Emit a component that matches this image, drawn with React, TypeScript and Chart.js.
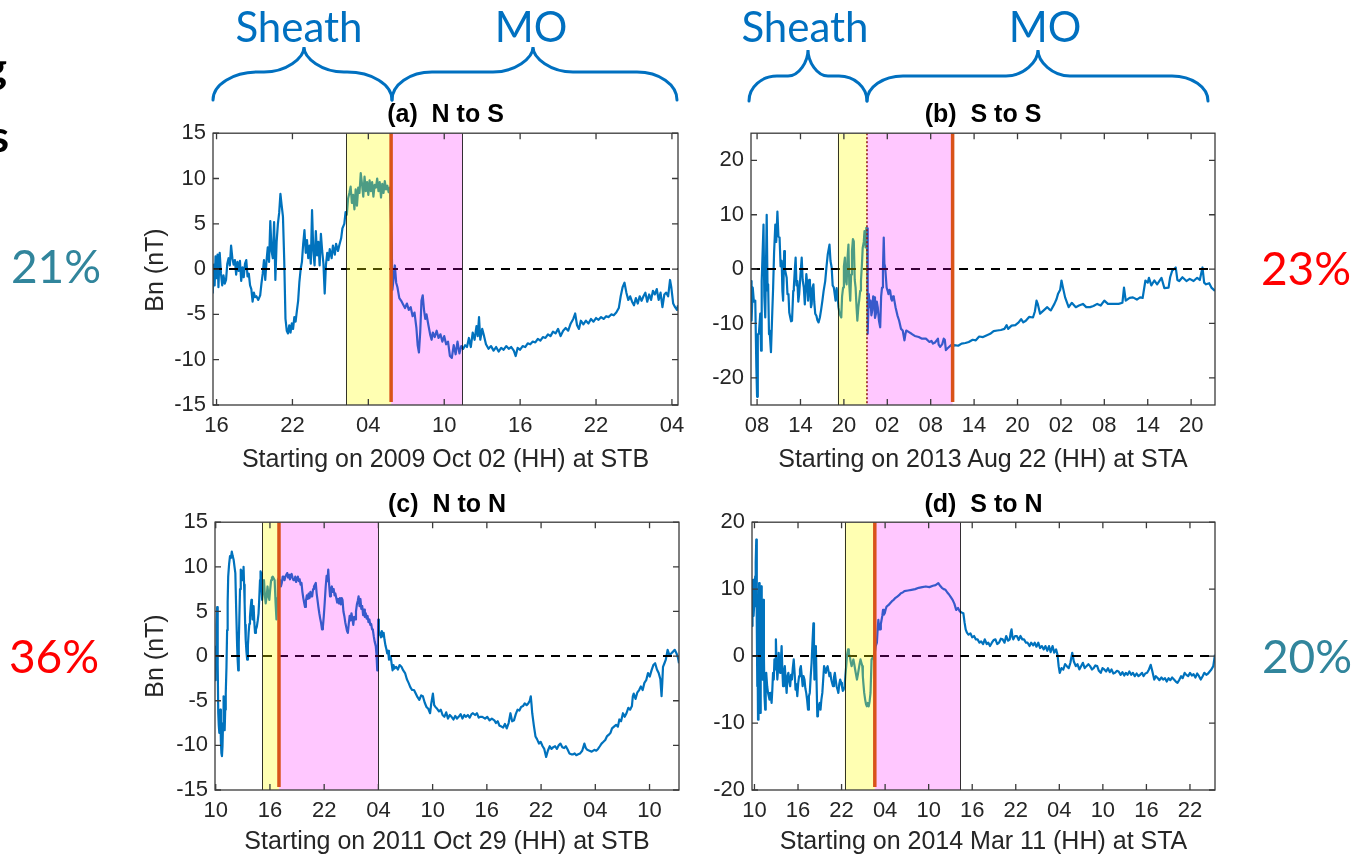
import React, { useEffect, useRef } from "react";
import { Chart, registerables } from "chart.js";

Chart.register(...registerables);

type Pt = [number, number];

// ---------- Panel (a) N to S : hours since 2009 Oct 02 00:00, Bn (nT)
const seriesA: Pt[] = [
  [15.7,-2.7],[15.78,0.5],[15.85,-1.8],[15.92,1.4],[16.0,-1.0],[16.08,1.6],[16.15,-2.0],[16.25,1.8],[16.35,-0.5],[16.45,-1.8],
  [16.55,-0.7],[16.65,-1.6],[16.75,-1.2],[16.85,0.6],[16.95,1.2],[17.05,0.4],[17.15,2.6],[17.25,1.2],[17.35,0.5],[17.45,1.0],
  [17.55,-0.6],[17.65,0.8],[17.75,-0.2],[17.85,0.9],[17.95,-1.3],[18.05,0.2],[18.15,-0.9],[18.25,0.6],[18.35,1.0],[18.45,-0.8],
  [18.55,-0.5],[18.65,-1.8],[18.75,-2.2],[18.85,-3.6],[18.95,-2.6],[19.05,-3.1],[19.15,-3.0],[19.3,-3.4],[19.45,-2.9],[19.55,-1.6],
  [19.65,-0.5],[19.75,1.0],[19.85,-1.2],[19.95,0.9],[20.05,2.4],[20.15,0.8],[20.25,5.3],[20.35,2.0],[20.45,1.2],[20.55,5.2],
  [20.65,-1.2],[20.75,3.0],[20.85,5.0],[20.95,6.2],[21.05,8.3],[21.15,7.0],[21.25,5.8],[21.35,1.0],[21.45,-5.5],[21.55,-6.8],
  [21.65,-7.1],[21.75,-6.2],[21.85,-7.0],[21.95,-6.0],[22.05,-6.6],[22.15,-5.3],[22.25,-5.8],[22.35,-4.6],[22.45,-3.5],[22.55,-1.4],
  [22.65,0.0],[22.75,0.8],[22.85,2.8],[22.95,4.3],[23.05,1.8],[23.15,3.2],[23.25,1.2],[23.35,2.6],[23.45,0.6],[23.55,6.5],
  [23.65,2.0],[23.75,0.4],[23.85,4.2],[23.95,1.5],[24.05,3.0],[24.15,0.4],[24.25,3.9],[24.35,2.0],[24.45,0.6],[24.55,-2.7],
  [24.65,0.5],[24.75,1.8],[24.85,1.0],[24.95,2.2],[25.1,1.2],[25.2,2.6],[25.35,1.6],[25.45,2.8],[25.6,2.0],[25.7,2.6],
  [25.85,3.4],[25.95,4.5],[26.1,5.0],[26.2,6.3],[26.3,6.0],[26.4,7.8],[26.5,8.4],[26.6,9.1],[26.7,7.3],[26.8,8.2],
  [26.9,6.6],[27.0,8.8],[27.1,7.0],[27.2,9.0],[27.3,8.4],[27.4,10.6],[27.5,9.4],[27.6,8.0],[27.7,10.2],[27.8,8.6],
  [27.9,9.6],[28.0,8.2],[28.1,9.8],[28.2,8.6],[28.3,9.6],[28.4,8.0],[28.5,9.3],[28.6,9.0],[28.7,10.0],[28.8,8.6],
  [28.9,9.6],[29.0,7.9],[29.1,9.4],[29.2,8.4],[29.3,9.7],[29.4,8.8],[29.5,9.2],[29.6,8.5],[29.7,9.0],[29.85,2.8],
  [29.9,-2.3],[30.0,-1.0],[30.1,0.4],[30.2,-1.5],[30.3,-2.0],[30.45,-3.2],[30.6,-3.5],[30.75,-3.9],[30.9,-4.3],[31.05,-3.8],
  [31.2,-4.5],[31.35,-4.2],[31.5,-5.2],[31.65,-4.8],[31.8,-6.5],[31.9,-8.4],[32.0,-9.2],[32.1,-7.0],[32.2,-3.5],[32.3,-2.9],
  [32.4,-4.5],[32.5,-5.5],[32.6,-5.0],[32.75,-6.2],[32.9,-7.3],[33.0,-7.8],[33.1,-7.0],[33.25,-7.5],[33.4,-6.8],[33.55,-7.6],
  [33.7,-7.2],[33.85,-8.0],[34.0,-7.4],[34.15,-8.3],[34.3,-8.0],[34.45,-9.6],[34.6,-9.8],[34.75,-8.4],[34.9,-9.4],[35.05,-8.0],
  [35.2,-9.3],[35.35,-8.5],[35.5,-8.8],[35.65,-8.4],[35.8,-8.6],[35.95,-7.6],[36.1,-8.6],[36.25,-7.0],[36.4,-7.8],[36.55,-6.3],
  [36.65,-7.4],[36.75,-5.3],[36.85,-7.8],[37.0,-6.6],[37.15,-7.4],[37.3,-8.3],[37.5,-8.8],[37.7,-8.5],[37.9,-9.0],[38.1,-8.6],
  [38.3,-9.1],[38.5,-8.7],[38.7,-8.9],[38.9,-8.5],[39.1,-8.8],[39.3,-8.6],[39.5,-9.0],[39.65,-9.6],[39.8,-8.7],[40.0,-8.9],
  [40.2,-8.5],[40.4,-8.6],[40.6,-8.2],[40.8,-8.3],[41.0,-8.0],[41.2,-8.1],[41.4,-7.7],[41.6,-7.9],[41.8,-7.5],[42.0,-7.6],
  [42.2,-7.2],[42.4,-7.4],[42.6,-6.9],[42.8,-7.1],[43.0,-6.6],[43.2,-7.4],[43.4,-6.8],[43.6,-6.5],[43.8,-6.8],[44.0,-6.0],
  [44.2,-5.5],[44.35,-4.9],[44.5,-6.2],[44.65,-6.6],[44.8,-5.7],[45.0,-6.1],[45.2,-5.7],[45.4,-6.0],[45.6,-5.5],[45.8,-5.8],
  [46.0,-5.4],[46.2,-5.6],[46.4,-5.3],[46.6,-5.5],[46.8,-5.2],[47.0,-5.3],[47.2,-5.0],[47.4,-5.1],[47.6,-4.8],[47.8,-4.3],
  [47.95,-3.0],[48.1,-2.0],[48.25,-1.5],[48.4,-2.6],[48.55,-3.4],[48.7,-3.0],[48.85,-3.6],[49.0,-4.0],[49.15,-3.2],[49.3,-3.8],
  [49.45,-3.0],[49.6,-3.5],[49.75,-3.0],[49.9,-2.6],[50.05,-3.6],[50.2,-2.8],[50.35,-3.4],[50.5,-2.4],[50.65,-2.8],[50.8,-2.2],
  [50.95,-3.4],[51.1,-2.6],[51.25,-4.2],[51.4,-2.8],[51.55,-2.6],[51.7,-3.0],[51.85,-1.2],[51.95,-2.0],[52.1,-3.8],[52.25,-4.2],
  [52.4,-4.5],[52.48,-4.0]
];

// ---------- Panel (b) S to S : hours since 2013 Aug 22 00:00
const seriesB: Pt[] = [
  [7.16,-2.2],[7.22,-5],[7.26,-9.5],[7.4,-3.4],[7.56,-6],[7.75,-5.8],[7.9,-18],[8.0,-23.5],[8.1,-12],[8.25,-11.9],
  [8.44,-8.2],[8.55,-15],[8.64,-2.2],[8.89,8.2],[9.0,-5],[9.13,-8.9],[9.33,10.0],[9.45,-4],[9.53,-2.8],[9.65,-12],
  [9.73,-11.3],[9.92,-15.3],[10.1,-8],[10.22,-3.4],[10.35,3],[10.52,8.2],[10.65,5],[10.81,10.6],[10.95,6],[11.11,5.8],
  [11.25,0.5],[11.4,1.5],[11.5,-4],[11.6,-5.8],[11.75,3.3],[11.85,0],[12.09,-1.6],[12.2,-4.6],[12.34,-4.6],[12.45,-8],
  [12.59,-8.9],[12.7,-9.6],[12.83,-9.5],[13.0,-4],[13.08,-3.4],[13.2,-0.5],[13.33,2.1],[13.45,-3],[13.57,-2.2],[13.7,-6],
  [13.82,-4.6],[14.0,-1],[14.17,2.1],[14.3,-2],[14.46,-3.4],[14.6,-6.5],[14.81,-0.9],[14.95,-3],[15.05,-5.8],[15.2,-2],
  [15.3,-2.2],[15.45,-7],[15.55,-6.4],[15.65,-3.5],[15.79,-2.8],[15.9,-6],[16.04,-8.2],[16.2,-8.6],[16.34,-9.4],[16.5,-9.8],
  [16.68,-8.9],[16.85,-7.5],[17.03,-5.8],[17.2,-4],[17.42,-2.2],[17.6,0.5],[17.77,2.7],[18.01,4.5],[18.15,1.5],[18.31,0.3],
  [18.45,-3],[18.61,-3.4],[18.85,-5.8],[19.0,-3.5],[19.1,-4.6],[19.25,-7],[19.4,-8.2],[19.64,-8.9],[19.75,-5],[19.89,-3.4],
  [20.0,0.5],[20.14,2.1],[20.25,-2],[20.38,-2.8],[20.5,2],[20.63,4.5],[20.75,-3],[20.88,-5.8],[21.0,-1],[21.12,3.3],
  [21.25,5.5],[21.37,5.1],[21.5,-2],[21.62,-3.4],[21.75,-7],[21.86,-9.5],[22.0,-7],[22.11,-5.8],[22.25,-4],[22.36,-2.2],
  [22.5,1],[22.6,3.9],[22.75,5],[22.85,7.0],[23.0,4],[23.1,7.6],[23.2,7.5],[23.29,-11.9],[23.44,-4.6],[23.55,-7],
  [23.69,-5.8],[23.8,-8.5],[23.93,-7.6],[24.05,-5],[24.18,-5.2],[24.3,-9],[24.43,-8.2],[24.55,-6],[24.68,-7.0],[24.85,-9.5],
  [25.02,-10.7],[25.15,-5],[25.27,-3.4],[25.4,0],[25.51,5.8],[25.6,1],[25.71,0.3],[25.91,-3.4],[26.05,-4],[26.16,-4.6],
  [26.3,-3.8],[26.4,-4.0],[26.55,-5.5],[26.65,-5.8],[26.8,-5],[26.9,-5.2],[27.14,-7.0],[27.4,-8.5],[27.64,-9.5],[27.9,-11],
  [28.13,-11.3],[28.37,-13.1],[28.5,-12],[28.62,-11.3],[29.0,-11.6],[29.36,-11.9],[29.8,-12.3],[30.35,-12.5],[30.8,-12.8],[31.34,-12.8],
  [31.83,-13.4],[32.1,-13.2],[32.32,-13.7],[32.6,-13.5],[32.82,-13.1],[33.0,-12.8],[33.1,-13.9],[33.31,-14.3],[33.6,-13.8],[33.8,-12.8],
  [33.95,-13.0],[34.1,-14.9],[34.3,-14.6],[34.79,-14.0],[35.1,-14.2],[35.28,-14.0],[35.8,-14.1],[36.27,-13.7],[36.8,-13.6],[37.26,-13.4],
  [37.8,-13.0],[38.24,-13.1],[38.7,-12.4],[39.23,-12.5],[39.7,-12.2],[40.22,-11.9],[40.7,-11.4],[41.2,-11.3],[41.7,-11.2],[42.19,-11.0],
  [42.5,-10.3],[42.7,-11.0],[43.18,-10.4],[43.7,-10.3],[44.16,-9.8],[44.5,-9.2],[44.8,-9.8],[45.15,-9.5],[45.6,-8.8],[46.14,-8.9],
  [46.4,-7.8],[46.63,-5.8],[46.8,-6.4],[47.12,-8.2],[47.62,-7.6],[48.11,-7.0],[48.4,-7.4],[48.6,-7.6],[49.1,-6.4],[49.4,-5.5],
  [49.59,-4.6],[49.9,-3.8],[50.08,-2.1],[50.3,-3.5],[50.58,-5.2],[51.07,-7.0],[51.5,-6.2],[52.06,-7.0],[52.5,-6.7],[53.04,-6.4],
  [53.5,-7.0],[54.03,-7.0],[54.5,-6.8],[55.02,-6.4],[55.5,-6.7],[56.0,-5.8],[56.5,-6.4],[56.99,-6.4],[57.5,-6.4],[57.98,-6.4],
  [58.5,-6.2],[58.72,-3.4],[58.96,-5.8],[59.5,-5.3],[59.95,-5.2],[60.5,-5.6],[60.94,-5.2],[61.3,-5.3],[61.68,-2.1],[62.0,-2.5],
  [62.17,-1.6],[62.5,-3],[62.91,-2.1],[63.3,-2.8],[63.9,-1.6],[64.3,-3.5],[64.88,-3.4],[65.1,-1.5],[65.38,-0.3],[65.87,0.3],
  [66.1,-2.0],[66.36,-2.2],[66.8,-1.5],[67.35,-2.2],[67.8,-1.8],[68.34,-2.2],[68.83,-1.6],[69.2,-2.0],[69.57,0.3],[69.8,-2.5],
  [70.06,-2.8],[70.5,-2.6],[70.8,-3.4],[71.3,-4.0]
];

// ---------- Panel (c) N to N : hours since 2011 Oct 29 00:00
const seriesC: Pt[] = [
  [9.92,-2.7],[9.98,0.5],[10.04,1.1],[10.1,3.5],[10.16,5.5],[10.22,-1.0],[10.28,-6.4],[10.34,-7.8],[10.4,-8.6],[10.46,-7.0],
  [10.51,-6.0],[10.57,-9.5],[10.63,-10.9],[10.69,-11.2],[10.75,-10.1],[10.81,-7.5],[10.87,-4.5],[10.93,-6.5],[10.99,-8.3],[11.05,-6.0],
  [11.11,-4.2],[11.19,-1.2],[11.26,2.9],[11.32,6.0],[11.38,8.9],[11.48,10.3],[11.58,11.2],[11.68,11.0],[11.78,11.7],[11.88,11.2],
  [11.98,10.8],[12.08,10.0],[12.17,9.3],[12.27,5.0],[12.37,1.1],[12.43,-0.5],[12.49,-1.6],[12.55,1.5],[12.61,4.1],[12.69,7.5],
  [12.77,9.7],[12.87,9.2],[12.96,8.5],[13.02,9.6],[13.08,10.0],[13.14,8.0],[13.2,5.9],[13.26,3.5],[13.32,1.8],[13.4,0.5],
  [13.48,-0.4],[13.56,1.2],[13.64,2.6],[13.72,3.6],[13.79,4.4],[13.87,5.5],[13.95,6.3],[14.01,5.0],[14.07,4.1],[14.13,5.2],
  [14.19,5.6],[14.27,3.8],[14.35,2.6],[14.45,3.0],[14.55,3.3],[14.65,4.0],[14.74,4.8],[14.82,6.5],[14.9,8.5],[14.96,9.5],
  [15.02,9.3],[15.08,7.5],[15.14,6.3],[15.24,7.6],[15.34,8.5],[15.44,6.8],[15.53,5.9],[15.63,6.6],[15.73,7.8],[15.83,6.8],
  [15.93,6.3],[16.03,7.5],[16.13,8.5],[16.22,8.8],[16.32,8.9],[16.42,8.7],[16.52,8.5],[16.62,6.0],[16.72,4.1],[16.8,6.5],
  [16.88,8.5],[16.95,8.7],[17.03,8.2],[17.11,8.5],[17.21,7.8],[17.31,8.2],[17.41,8.9],[17.51,8.9],[17.61,8.5],[17.71,8.9],
  [17.81,9.1],[17.91,9.3],[18.01,8.8],[18.11,9.1],[18.21,8.6],[18.3,8.9],[18.4,9.2],[18.5,8.8],[18.6,8.5],[18.7,8.5],
  [18.8,8.9],[18.9,8.3],[19.0,8.8],[19.09,8.9],[19.19,8.4],[19.29,8.6],[19.39,8.0],[19.49,8.2],[19.59,7.2],[19.69,6.5],
  [19.78,6.0],[19.88,5.5],[19.98,6.2],[20.08,6.8],[20.18,6.4],[20.28,7.0],[20.38,6.5],[20.48,7.2],[20.57,6.7],[20.67,6.7],
  [20.77,7.5],[20.87,7.8],[20.97,8.0],[21.07,8.2],[21.17,7.0],[21.26,6.3],[21.36,5.5],[21.46,4.8],[21.56,4.2],[21.66,3.7],
  [21.76,3.0],[21.86,3.3],[21.96,4.5],[22.06,6.0],[22.17,7.8],[22.27,9.0],[22.37,8.4],[22.45,9.7],[22.55,8.0],[22.65,6.7],
  [22.75,7.5],[22.85,7.8],[22.95,7.2],[23.05,7.5],[23.15,6.8],[23.24,7.0],[23.34,6.5],[23.44,6.0],[23.54,6.4],[23.64,5.9],
  [23.74,6.5],[23.84,5.8],[23.94,6.5],[24.03,6.3],[24.13,5.0],[24.23,4.5],[24.33,3.8],[24.43,3.3],[24.53,2.8],[24.62,2.6],
  [24.72,3.6],[24.82,4.5],[24.92,4.0],[25.02,4.8],[25.12,4.2],[25.22,3.5],[25.32,4.4],[25.42,4.1],[25.52,5.0],[25.62,5.8],
  [25.72,6.2],[25.81,6.7],[25.91,5.6],[26.01,6.4],[26.11,5.3],[26.21,5.6],[26.31,4.6],[26.41,5.2],[26.5,4.4],[26.6,4.8],
  [26.7,4.2],[26.8,4.5],[26.9,3.8],[27.0,4.1],[27.1,3.5],[27.2,3.6],[27.3,3.0],[27.39,2.9],[27.49,2.2],[27.59,1.6],
  [27.71,1.1],[27.8,0.0],[27.87,-1.6],[27.93,0.5],[27.98,4.1],[28.05,3.0],[28.12,2.4],[28.18,2.6],[28.28,2.1],[28.38,2.8],
  [28.48,2.2],[28.58,2.6],[28.68,1.8],[28.78,1.2],[28.88,0.8],[28.97,0.3],[29.07,0.6],[29.17,-0.4],[29.27,0.0],[29.37,-0.1],
  [29.47,-0.9],[29.57,-1.6],[29.67,-1.0],[29.77,-1.4],[29.96,-1.2],[30.15,-1.5],[30.35,-1.0],[30.55,-1.2],[30.75,-1.6],[30.95,-1.9],
  [31.15,-2.6],[31.34,-3.0],[31.54,-3.5],[31.74,-3.8],[31.94,-3.8],[32.13,-4.2],[32.33,-4.6],[32.53,-4.9],[32.73,-4.4],[32.92,-4.5],
  [33.12,-5.2],[33.32,-5.7],[33.52,-5.9],[33.72,-6.4],[33.85,-5.3],[34.03,-4.2],[34.17,-5.5],[34.31,-5.7],[34.5,-5.9],[34.7,-6.2],
  [34.9,-6.0],[35.1,-6.6],[35.3,-6.8],[35.5,-6.3],[35.7,-7.0],[35.9,-6.6],[36.09,-6.8],[36.3,-7.1],[36.5,-6.7],[36.7,-7.0],
  [36.88,-6.8],[37.1,-6.5],[37.3,-7.0],[37.5,-6.6],[37.67,-6.8],[37.9,-6.6],[38.1,-6.9],[38.3,-6.5],[38.46,-6.4],[38.7,-6.6],
  [38.9,-6.4],[39.1,-6.9],[39.25,-6.8],[39.5,-6.8],[39.8,-7.0],[40.04,-6.8],[40.3,-7.2],[40.55,-7.0],[40.83,-7.2],[41.0,-7.5],
  [41.2,-7.3],[41.4,-7.8],[41.62,-7.9],[41.8,-8.0],[42.0,-7.6],[42.2,-8.1],[42.41,-7.5],[42.61,-6.4],[42.8,-7.3],[43.0,-7.2],
  [43.2,-6.5],[43.4,-6.0],[43.6,-6.1],[43.79,-5.7],[44.0,-5.6],[44.19,-5.3],[44.4,-5.5],[44.58,-5.3],[44.75,-5.0],[44.86,-4.5],
  [44.95,-5.5],[45.02,-6.4],[45.2,-7.8],[45.38,-9.0],[45.55,-9.3],[45.77,-9.8],[45.95,-9.6],[46.17,-10.1],[46.35,-10.4],[46.56,-11.3],
  [46.75,-10.6],[46.96,-10.1],[47.15,-10.4],[47.35,-10.2],[47.55,-10.1],[47.75,-10.4],[47.95,-10.0],[48.14,-9.8],[48.35,-10.2],[48.55,-10.3],
  [48.74,-10.1],[48.95,-10.5],[49.13,-10.9],[49.35,-11.0],[49.55,-11.0],[49.72,-10.9],[49.9,-11.1],[50.1,-11.0],[50.32,-10.9],[50.55,-10.6],
  [50.79,-9.8],[50.95,-10.3],[51.11,-10.5],[51.35,-10.6],[51.6,-10.7],[51.9,-10.5],[52.1,-10.6],[52.3,-10.4],[52.5,-10.1],[52.69,-9.8],
  [52.9,-9.6],[53.1,-9.4],[53.28,-9.0],[53.5,-8.8],[53.68,-8.6],[53.85,-8.1],[54.07,-7.9],[54.3,-7.7],[54.5,-7.9],[54.66,-7.1],
  [54.85,-7.3],[55.06,-6.4],[55.25,-6.8],[55.45,-6.4],[55.65,-5.8],[55.85,-6.0],[56.05,-5.6],[56.15,-4.5],[56.25,-4.2],[56.45,-4.8],
  [56.64,-4.1],[56.85,-3.8],[57.04,-3.4],[57.24,-3.8],[57.43,-3.0],[57.63,-2.7],[57.83,-1.9],[58.02,-2.3],[58.22,-1.6],[58.42,-1.0],
  [58.62,-0.8],[58.82,-1.5],[59.01,-1.9],[59.2,-2.6],[59.33,-4.5],[59.41,-3.0],[59.49,-1.2],[59.65,-0.8],[59.8,-0.4],[60.0,0.7],
  [60.2,0.1],[60.4,0.3],[60.6,0.5],[60.79,0.7],[60.99,0.3],[61.15,-0.2],[61.26,-0.8]
];

// ---------- Panel (d) S to N : hours since 2014 Mar 11 00:00
const seriesD: Pt[] = [
  [9.66,4.5],[9.73,9],[9.8,11.4],[9.87,6],[9.95,7.4],[10.02,10],[10.1,11.9],[10.17,14],[10.25,17.4],[10.32,5],
  [10.39,-4.5],[10.44,-2],[10.49,-9.5],[10.56,2],[10.64,10.9],[10.71,2],[10.79,-8.5],[10.86,0],[10.93,10.4],[11.0,5],
  [11.08,-3.5],[11.15,2],[11.23,8.4],[11.3,0],[11.38,-6.0],[11.48,-8.0],[11.55,-4],[11.62,-2.5],[11.75,-4.5],[11.87,-5.5],
  [11.97,-6.0],[12.07,-6.5],[12.2,-5.5],[12.36,-7.0],[12.46,-5.0],[12.56,-2.5],[12.66,-3.5],[12.75,-0.5],[12.85,-2.0],[12.95,2.5],
  [13.05,-1.0],[13.15,-3.5],[13.25,-2.0],[13.34,0.5],[13.44,-1.5],[13.54,-2.5],[13.64,-0.5],[13.74,1.5],[13.84,-2.0],[13.94,-4.5],
  [14.06,-2.5],[14.18,-1.5],[14.3,-3.5],[14.43,-5.5],[14.55,-3.0],[14.67,-2.5],[14.8,-3.8],[14.92,-4.5],[15.04,-2.8],[15.16,-3.5],
  [15.28,-1.8],[15.41,-0.5],[15.53,-2.5],[15.66,-5.0],[15.78,-4.2],[15.9,-6.0],[16.03,-4.0],[16.15,-3.0],[16.27,-2.0],[16.39,-1.5],
  [16.52,-3.0],[16.64,-4.5],[16.76,-3.0],[16.89,-3.5],[17.01,-4.8],[17.13,-5.5],[17.25,-6.5],[17.38,-8.0],[17.5,-6.0],[17.62,-5.5],
  [17.75,-3.0],[17.87,-1.0],[17.99,2.0],[18.12,4.9],[18.2,0],[18.26,-3.5],[18.36,-0.5],[18.46,1.5],[18.56,-4],[18.66,-9.0],
  [18.75,-8.5],[18.85,-7.5],[18.98,-7.0],[19.1,-8.0],[19.22,-6.5],[19.35,-5.5],[19.47,-3.5],[19.59,-1.5],[19.72,-2.0],[19.84,-2.5],
  [19.96,-1.8],[20.08,-1.5],[20.2,-2.2],[20.33,-3.0],[20.45,-2.5],[20.58,-3.5],[20.7,-4.0],[20.82,-4.5],[20.95,-3.2],[21.07,-2.5],
  [21.19,-3.5],[21.31,-4.5],[21.44,-5.0],[21.56,-5.5],[21.68,-4.2],[21.81,-3.5],[21.93,-4.0],[22.05,-4.5],[22.17,-5.2],[22.3,-5.0],
  [22.42,-4.5],[22.52,-3.0],[22.64,-1.5],[22.76,0.2],[22.89,1.0],[23.0,0.3],[23.13,0.0],[23.25,-0.8],[23.38,-1.5],[23.5,-1.0],
  [23.63,-0.5],[23.75,-1.2],[23.87,-2.0],[24.0,-2.8],[24.12,-3.5],[24.24,-2.8],[24.36,-2.0],[24.48,-1.2],[24.61,-0.5],[24.73,-1.0],
  [24.86,-1.5],[24.93,-3.0],[25.0,-4.0],[25.12,-5.5],[25.25,-6.5],[25.37,-7.2],[25.49,-7.5],[25.62,-7.0],[25.74,-7.5],[25.86,-6.8],
  [25.99,-5.5],[26.13,-0.5],[26.23,-0.3],[26.33,0.0],[26.45,-0.5],[26.58,0.5],[26.7,1.5],[26.87,2.0],[26.97,4.0],[27.07,5.4],
  [27.19,4.0],[27.31,4.0],[27.41,4.8],[27.51,5.4],[27.61,6.0],[27.71,6.9],[27.83,6.2],[27.95,6.4],[28.08,7.0],[28.2,7.4],
  [28.45,7.6],[28.69,7.9],[28.94,8.2],[29.18,8.4],[29.43,8.7],[29.68,8.9],[29.92,9.1],[30.17,9.4],[30.42,9.5],[30.66,9.7],
  [31.15,9.8],[31.64,9.9],[32.14,10.0],[32.63,10.2],[33.12,10.3],[33.61,10.4],[34.1,10.3],[34.59,10.5],[34.95,10.6],[35.33,10.9],
  [35.58,10.5],[35.82,10.2],[36.07,10.0],[36.32,9.9],[36.57,9.5],[36.81,9.2],[37.05,8.8],[37.3,8.4],[37.55,7.8],[37.79,6.9],
  [38.04,7.2],[38.28,6.7],[38.53,6.5],[38.78,6.4],[38.95,5.0],[39.1,4.0],[39.27,3.5],[39.5,3.2],[39.76,3.4],[40.0,2.8],
  [40.25,3.0],[40.5,2.5],[40.74,2.5],[41.0,2.0],[41.23,2.2],[41.5,1.8],[41.73,2.5],[42.0,1.8],[42.22,2.0],[42.45,1.5],
  [42.71,2.0],[42.95,2.4],[43.2,2.5],[43.45,1.8],[43.69,2.0],[43.95,2.6],[44.19,2.5],[44.45,2.0],[44.68,3.0],[44.95,2.3],
  [45.17,2.5],[45.3,3.5],[45.42,4.0],[45.55,2.8],[45.66,2.5],[45.9,3.0],[46.15,3.0],[46.4,2.4],[46.65,3.0],[46.9,2.5],
  [47.14,2.5],[47.4,2.0],[47.63,2.0],[47.9,1.5],[48.12,2.0],[48.4,1.6],[48.61,2.0],[48.85,1.4],[49.1,2.0],[49.35,1.2],
  [49.6,1.5],[49.85,1.0],[50.09,1.5],[50.35,0.8],[50.58,1.5],[50.8,0.6],[51.07,1.5],[51.3,0.5],[51.56,1.0],[51.75,0.2],
  [51.91,-1.5],[52.06,-2.5],[52.3,-1.8],[52.55,-2.0],[52.8,-1.2],[53.04,-1.5],[53.3,-1.8],[53.53,-1.0],[53.78,0.5],[54.0,-0.8],
  [54.27,-1.5],[54.5,-1.2],[54.76,-2.0],[55.0,-1.5],[55.25,-1.0],[55.5,-1.8],[55.74,-1.5],[56.0,-1.2],[56.24,-1.5],[56.5,-2.0],
  [56.73,-1.8],[56.97,-1.4],[57.22,-1.5],[57.45,-2.2],[57.71,-2.5],[57.95,-1.8],[58.2,-2.0],[58.45,-2.3],[58.7,-1.8],[58.95,-2.4],
  [59.19,-2.0],[59.45,-2.6],[59.68,-2.5],[59.95,-2.2],[60.17,-2.3],[60.45,-2.8],[60.7,-2.4],[60.95,-2.9],[61.16,-2.5],[61.4,-2.8],
  [61.65,-2.3],[61.9,-2.8],[62.14,-2.5],[62.4,-3.0],[62.65,-2.6],[62.9,-3.0],[63.12,-2.8],[63.4,-2.5],[63.6,-3.0],[63.85,-2.6],
  [64.1,-2.5],[64.35,-2.0],[64.59,-1.3],[64.8,-2.2],[65.08,-3.5],[65.3,-3.0],[65.58,-3.3],[65.8,-3.6],[66.07,-3.2],[66.3,-3.5],
  [66.56,-3.3],[66.8,-3.8],[67.05,-3.3],[67.3,-3.6],[67.54,-3.2],[67.8,-3.5],[68.05,-3.8],[68.28,-4.0],[68.5,-3.6],[68.78,-3.0],
  [69.0,-3.3],[69.27,-2.5],[69.5,-2.8],[69.75,-3.0],[70.01,-2.5],[70.25,-2.9],[70.5,-2.7],[70.75,-3.2],[71.0,-2.6],[71.25,-3.0],
  [71.49,-3.5],[71.75,-3.0],[71.98,-2.5],[72.25,-2.8],[72.5,-2.6],[72.72,-2.3],[72.95,-2.0],[73.21,-1.5],[73.35,-0.5],[73.45,0.2]
];

// ---------- axis ticks (hours) and value ticks
const xTicksA = [16, 22, 28, 34, 40, 46, 52];
const xTicksB = [8, 14, 20, 26, 32, 38, 44, 50, 56, 62, 68];
const xTicksC = [10, 16, 22, 28, 34, 40, 46, 52, 58];
const xTicksD = [10, 16, 22, 28, 34, 40, 46, 52, 58, 64, 70];
const yTicks15 = [-15, -10, -5, 0, 5, 10, 15];
const yTicks20 = [-20, -10, 0, 10, 20];

// ---------- shaded intervals (hours): sheath (yellow), MO part (magenta)
const sheathA: [number, number] = [26.25, 29.8];
const magentaA: [number, number] = [29.8, 35.44];
const sheathB: [number, number] = [19.15, 23.19];
const magentaB: [number, number] = [23.19, 35.03];
const sheathC: [number, number] = [15.14, 17.0];
const magentaC: [number, number] = [17.0, 28.0];
const sheathD: [number, number] = [22.44, 26.58];
const magentaD: [number, number] = [26.58, 38.38];

const titles = ["(a)  N to S", "(b)  S to S", "(c)  N to N", "(d)  S to N"];
const xLabels = [
  "Starting on 2009 Oct 02 (HH) at STB",
  "Starting on 2013 Aug 22 (HH) at STA",
  "Starting on 2011 Oct 29 (HH) at STB",
  "Starting on 2014 Mar 11 (HH) at STA",
];
const percents = ["21%", "23%", "36%", "20%"];

const FONT = "'Liberation Sans', Arial, Helvetica, sans-serif";
const LABEL_FONT = "Lato, 'Open Sans', sans-serif";
const TXT = "#262626";
const BLUE = "#0072BD";
const ORANGE = "#D95319";
const ANNO_BLUE = "#0070C0";
const TEAL = "#31859C";

interface PanelCfg {
  box: { left: number; top: number; width: number; height: number };
  xRange: [number, number];
  yRange: [number, number];
  xTicks: number[];
  yTicks: number[];
  series: Pt[];
  yellow: [number, number];
  magenta: [number, number];
  orange: number;
  thin: number[];
  dotted: number[];
}

const panels: PanelCfg[] = [
  {
    box: { left: 213, top: 133, width: 465, height: 272 },
    xRange: [15.72, 52.48], yRange: [-15, 15], xTicks: xTicksA, yTicks: yTicks15,
    series: seriesA, yellow: sheathA, magenta: magentaA, orange: sheathA[1],
    thin: [sheathA[0], magentaA[1]], dotted: [],
  },
  {
    box: { left: 751, top: 133, width: 464, height: 272 },
    xRange: [7.16, 71.3], yRange: [-25, 25], xTicks: xTicksB, yTicks: yTicks20,
    series: seriesB, yellow: sheathB, magenta: magentaB, orange: magentaB[1],
    thin: [sheathB[0]], dotted: [sheathB[1]],
  },
  {
    box: { left: 215, top: 522, width: 464, height: 268 },
    xRange: [9.92, 61.26], yRange: [-15, 15], xTicks: xTicksC, yTicks: yTicks15,
    series: seriesC, yellow: sheathC, magenta: magentaC, orange: sheathC[1],
    thin: [sheathC[0], magentaC[1]], dotted: [],
  },
  {
    box: { left: 752, top: 522, width: 463, height: 268 },
    xRange: [9.66, 73.45], yRange: [-20, 20], xTicks: xTicksD, yTicks: yTicks20,
    series: seriesD, yellow: sheathD, magenta: magentaD, orange: sheathD[1],
    thin: [sheathD[0], magentaD[1]], dotted: [],
  },
];

const AY_W = 70;
const PAD_T = 20;
const PAD_R = 30;
const AX_H = 45;

const hh = (v: number) => String(((Math.round(v) % 24) + 24) % 24).padStart(2, "0");

function Panel({ cfg }: { cfg: PanelCfg }) {
  const ref = useRef<HTMLCanvasElement | null>(null);
  const cw = AY_W + cfg.box.width + PAD_R;
  const ch = PAD_T + cfg.box.height + AX_H;

  useEffect(() => {
    const canvas = ref.current;
    if (!canvas) return;
    const overlay = {
      id: "overlay",
      afterDatasetsDraw(chart: any) {
        const { ctx, chartArea: a, scales } = chart;
        const xs = scales.x;
        const ys = scales.y;
        const px = (v: number) => xs.getPixelForValue(v);
        const h = a.bottom - a.top;
        ctx.save();
        ctx.beginPath();
        ctx.rect(a.left, a.top, a.right - a.left, h);
        ctx.clip();
        ctx.fillStyle = "rgba(255,255,0,0.3)";
        ctx.fillRect(px(cfg.yellow[0]), a.top, px(cfg.yellow[1]) - px(cfg.yellow[0]), h);
        ctx.fillStyle = "rgba(255,0,255,0.22)";
        ctx.fillRect(px(cfg.magenta[0]), a.top, px(cfg.magenta[1]) - px(cfg.magenta[0]), h);
        ctx.strokeStyle = "rgba(0,0,0,0.8)";
        ctx.lineWidth = 1;
        for (const t of cfg.thin) {
          const x = Math.round(px(t)) + 0.5;
          ctx.beginPath();
          ctx.moveTo(x, a.top);
          ctx.lineTo(x, a.bottom);
          ctx.stroke();
        }
        ctx.strokeStyle = "#8B1010";
        ctx.lineWidth = 1.5;
        ctx.setLineDash([2, 2]);
        for (const t of cfg.dotted) {
          const x = px(t);
          ctx.beginPath();
          ctx.moveTo(x, a.top);
          ctx.lineTo(x, a.bottom);
          ctx.stroke();
        }
        ctx.setLineDash([]);
        ctx.strokeStyle = ORANGE;
        ctx.lineWidth = 3.5;
        const ox = px(cfg.orange);
        ctx.beginPath();
        ctx.moveTo(ox, a.top);
        ctx.lineTo(ox, a.bottom - 3);
        ctx.stroke();
        ctx.restore();

        // axes box with inward ticks
        ctx.save();
        ctx.strokeStyle = "#3a3a3a";
        ctx.lineWidth = 1.3;
        ctx.strokeRect(a.left, a.top, a.right - a.left, h);
        const TL = 6;
        ctx.beginPath();
        for (const t of cfg.xTicks) {
          const x = px(t);
          ctx.moveTo(x, a.bottom);
          ctx.lineTo(x, a.bottom - TL);
          ctx.moveTo(x, a.top);
          ctx.lineTo(x, a.top + TL);
        }
        for (const t of cfg.yTicks) {
          const y = ys.getPixelForValue(t);
          ctx.moveTo(a.left, y);
          ctx.lineTo(a.left + TL, y);
          ctx.moveTo(a.right, y);
          ctx.lineTo(a.right - TL, y);
        }
        ctx.stroke();
        ctx.restore();
      },
    };

    const chart = new Chart(canvas, {
      type: "line",
      data: {
        datasets: [
          {
            data: cfg.series.map(([x, y]) => ({ x, y })),
            borderColor: BLUE,
            borderWidth: 2.2,
            pointRadius: 0,
            tension: 0,
            borderJoinStyle: "round",
            order: 1,
          },
          {
            data: [
              { x: cfg.xRange[0], y: 0 },
              { x: cfg.xRange[1], y: 0 },
            ],
            borderColor: "#000000",
            borderWidth: 2,
            borderDash: [9, 7],
            pointRadius: 0,
            order: 0,
          },
        ],
      } as any,
      options: {
        animation: false,
        responsive: false,
        maintainAspectRatio: false,
        devicePixelRatio: 1,
        events: [],
        layout: { padding: { left: 0, top: PAD_T, right: PAD_R, bottom: 0 } },
        plugins: { legend: { display: false }, tooltip: { enabled: false }, title: { display: false } },
        scales: {
          x: {
            type: "linear",
            min: cfg.xRange[0],
            max: cfg.xRange[1],
            grid: { display: false, drawTicks: false },
            border: { display: false },
            ticks: {
              font: { family: FONT, size: 22 },
              color: TXT,
              padding: 8,
              maxRotation: 0,
              autoSkip: false,
              callback: (v: any) => hh(Number(v)),
            },
            afterBuildTicks: (axis: any) => {
              axis.ticks = cfg.xTicks.map((v) => ({ value: v }));
            },
            afterFit: (s: any) => {
              s.height = AX_H;
            },
          },
          y: {
            type: "linear",
            min: cfg.yRange[0],
            max: cfg.yRange[1],
            grid: { display: false, drawTicks: false },
            border: { display: false },
            ticks: {
              font: { family: FONT, size: 22 },
              color: TXT,
              padding: 7,
              autoSkip: false,
              callback: (v: any) => String(v),
            },
            afterBuildTicks: (axis: any) => {
              axis.ticks = cfg.yTicks.map((v) => ({ value: v }));
            },
            afterFit: (s: any) => {
              s.width = AY_W;
            },
          },
        },
      } as any,
      plugins: [overlay],
    });
    return () => chart.destroy();
  }, [cfg]);

  return (
    <canvas
      ref={ref}
      width={cw}
      height={ch}
      style={{
        position: "absolute",
        left: cfg.box.left - AY_W,
        top: cfg.box.top - PAD_T,
        width: cw,
        height: ch,
      }}
    />
  );
}

function bracePath(x0: number, xm: number, x1: number, yb: number, yh: number, yp: number, r: number, k: number) {
  const c = 0.552;
  const dy = yb - yh;
  const dp = yh - yp;
  return [
    `M ${x0} ${yb}`,
    `C ${x0} ${yb - c * dy} ${x0 + r * (1 - c)} ${yh} ${x0 + r} ${yh}`,
    `L ${xm - k} ${yh}`,
    `C ${xm - k + c * k} ${yh} ${xm} ${yh - c * dp} ${xm} ${yp}`,
    `C ${xm} ${yh - c * dp} ${xm + k - c * k} ${yh} ${xm + k} ${yh}`,
    `L ${x1 - r} ${yh}`,
    `C ${x1 - r * (1 - c)} ${yh} ${x1} ${yb - c * dy} ${x1} ${yb}`,
  ].join(" ");
}

function Overlay() {
  const titleStyle = { whiteSpace: "pre" as const };
  return (
    <svg
      width={1364}
      height={857}
      style={{ position: "absolute", left: 0, top: 0, pointerEvents: "none" }}
    >
      {/* cut-off heading letters at left edge */}
      <text x={7} y={83} textAnchor="end" fontFamily={LABEL_FONT} fontWeight="bold" fontSize={44} fill="#000">g</text>
      <text x={9} y={152} textAnchor="end" fontFamily={LABEL_FONT} fontWeight="bold" fontSize={44} fill="#000">s</text>

      {/* braces */}
      <g fill="none" stroke={ANNO_BLUE} strokeWidth={3} strokeLinecap="round">
        <path d={bracePath(213, 304, 392, 100, 72, 47, 45, 40)} />
        <path d={bracePath(392, 533, 677, 100, 72, 47, 40, 40)} />
        <path d={bracePath(749, 808, 867, 101, 76, 50, 28, 20)} />
        <path d={bracePath(867, 1038, 1208, 101, 76, 50, 36, 32)} />
      </g>
      <g fontFamily={LABEL_FONT} fontSize={42} fill={ANNO_BLUE} textAnchor="middle">
        <text x={299} y={42}>Sheath</text>
        <text x={531} y={42}>MO</text>
        <text x={805} y={42}>Sheath</text>
        <text x={1045} y={42}>MO</text>
      </g>

      {/* percentages */}
      <g fontFamily={LABEL_FONT} fontSize={46} textAnchor="middle">
        <text x={56} y={283} fill={TEAL}>{percents[0]}</text>
        <text x={1306} y={285} fill="#FF0000">{percents[1]}</text>
        <text x={54} y={673} fill="#FF0000">{percents[2]}</text>
        <text x={1307} y={673} fill={TEAL}>{percents[3]}</text>
      </g>

      {/* panel titles */}
      <g fontFamily={FONT} fontWeight="bold" fontSize={25} fill="#000" textAnchor="middle">
        <text x={445.5} y={122} style={titleStyle}>{titles[0]}</text>
        <text x={983} y={122} style={titleStyle}>{titles[1]}</text>
        <text x={447} y={512} style={titleStyle}>{titles[2]}</text>
        <text x={983.5} y={512} style={titleStyle}>{titles[3]}</text>
      </g>

      {/* x-axis labels */}
      <g fontFamily={FONT} fontSize={25} fill={TXT} textAnchor="middle">
        <text x={445.5} y={467}>{xLabels[0]}</text>
        <text x={983} y={467}>{xLabels[1]}</text>
        <text x={447} y={849}>{xLabels[2]}</text>
        <text x={983.5} y={849}>{xLabels[3]}</text>
      </g>

      {/* y-axis labels */}
      <g fontFamily={FONT} fontSize={25} fill={TXT} textAnchor="middle">
        <text transform="translate(163,270) rotate(-90)">Bn (nT)</text>
        <text transform="translate(163,656) rotate(-90)">Bn (nT)</text>
      </g>
    </svg>
  );
}

export default function App() {
  return (
    <div
      style={{
        position: "absolute",
        left: 0,
        top: 0,
        width: 1364,
        height: 857,
        background: "#ffffff",
        overflow: "hidden",
      }}
    >
      {panels.map((p, i) => (
        <Panel key={i} cfg={p} />
      ))}
      <Overlay />
    </div>
  );
}
